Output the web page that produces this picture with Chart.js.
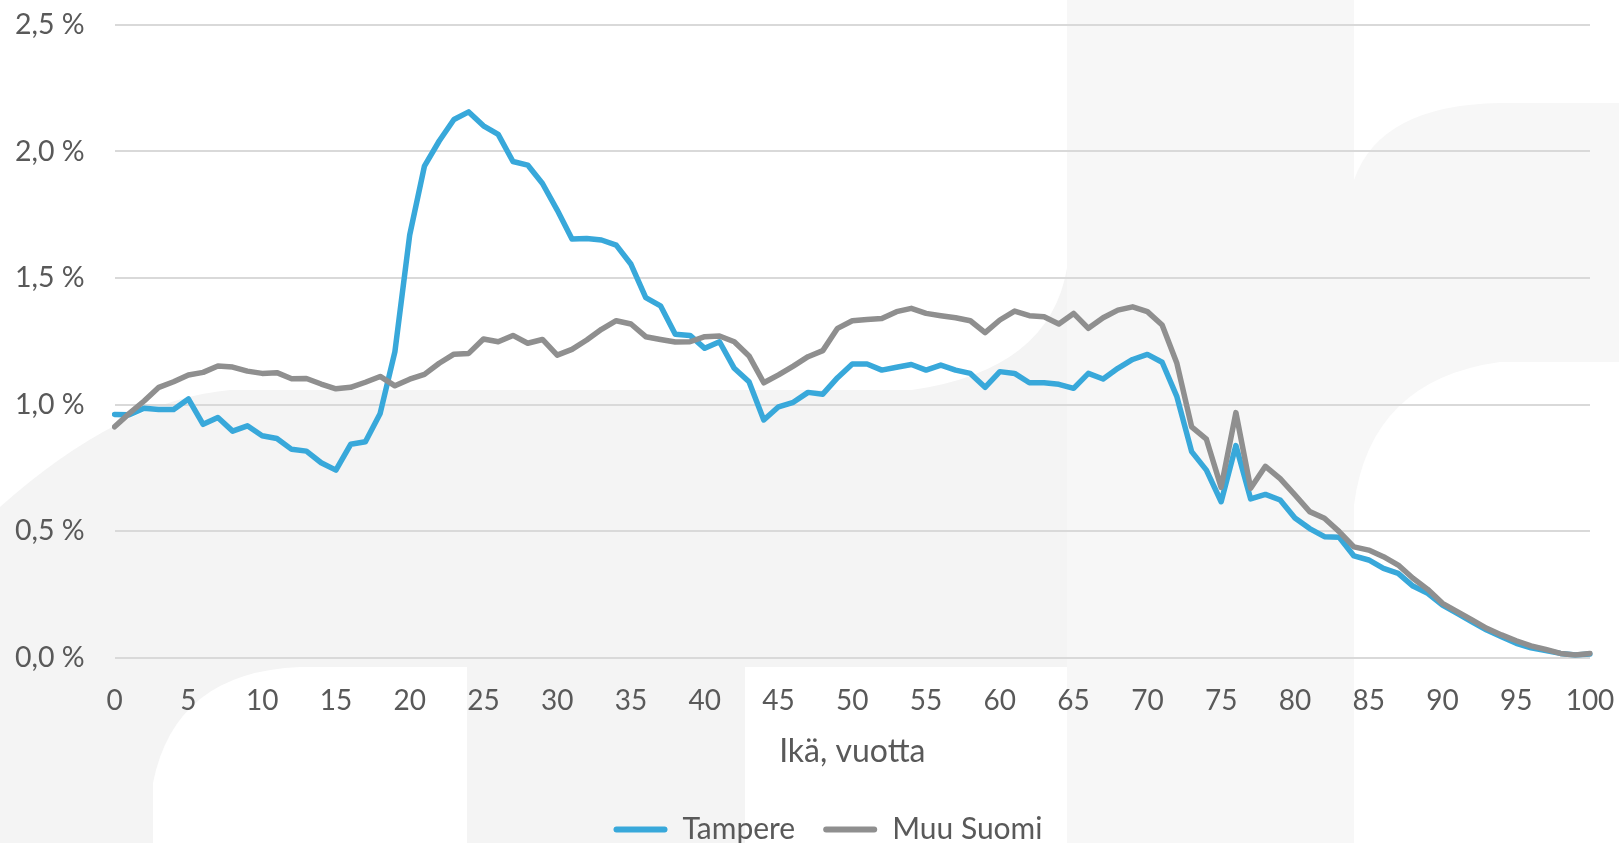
<!DOCTYPE html>
<html>
<head>
<meta charset="utf-8">
<script src="https://cdn.jsdelivr.net/npm/chart.js@4.4.0/dist/chart.umd.min.js"></script>
<style>
  html, body { margin: 0; padding: 0; background: #ffffff; }
  #wrap { width: 1619px; height: 843px; position: relative; }
</style>
</head>
<body>
<div id="wrap"><canvas id="c" width="1619" height="843"></canvas></div>
<script>
// ---- Data ----
const ages = Array.from({length: 101}, (_, i) => String(i));
const seriesNames = ['Tampere', 'Muu Suomi'];
const tampere = [
  0.961, 0.960, 0.985, 0.980, 0.980, 1.022, 0.922, 0.949, 0.895, 0.916,
  0.877, 0.866, 0.823, 0.816, 0.770, 0.741, 0.843, 0.853, 0.965, 1.209,
  1.669, 1.942, 2.041, 2.126, 2.156, 2.101, 2.067, 1.960, 1.946, 1.873,
  1.768, 1.654, 1.656, 1.650, 1.630, 1.554, 1.422, 1.390, 1.278, 1.273,
  1.222, 1.248, 1.143, 1.090, 0.939, 0.991, 1.009, 1.048, 1.041, 1.106,
  1.160, 1.160, 1.136, 1.147, 1.158, 1.136, 1.156, 1.136, 1.123, 1.068,
  1.130, 1.123, 1.086, 1.086, 1.080, 1.064, 1.123, 1.101, 1.143, 1.178,
  1.198, 1.167, 1.031, 0.814, 0.741, 0.616, 0.838, 0.627, 0.645, 0.623,
  0.552, 0.510, 0.478, 0.476, 0.402, 0.386, 0.353, 0.333, 0.283, 0.254,
  0.208, 0.175, 0.142, 0.109, 0.083, 0.057, 0.039, 0.028, 0.017, 0.011,
  0.015
];
const muuSuomi = [
  0.912, 0.965, 1.014, 1.068, 1.090, 1.117, 1.127, 1.152, 1.148, 1.132,
  1.123, 1.126, 1.102, 1.103, 1.081, 1.062, 1.068, 1.088, 1.111, 1.074,
  1.100, 1.119, 1.163, 1.199, 1.202, 1.259, 1.248, 1.273, 1.242, 1.257,
  1.195, 1.218, 1.255, 1.297, 1.331, 1.318, 1.268, 1.257, 1.247, 1.248,
  1.268, 1.271, 1.248, 1.192, 1.086, 1.117, 1.152, 1.189, 1.213, 1.301,
  1.331, 1.336, 1.340, 1.367, 1.380, 1.360, 1.351, 1.343, 1.331, 1.284,
  1.334, 1.369, 1.351, 1.347, 1.318, 1.360, 1.301, 1.343, 1.373, 1.386,
  1.367, 1.314, 1.163, 0.912, 0.863, 0.673, 0.968, 0.669, 0.756, 0.707,
  0.643, 0.577, 0.551, 0.498, 0.438, 0.425, 0.399, 0.366, 0.314, 0.270,
  0.215, 0.182, 0.149, 0.116, 0.090, 0.067, 0.047, 0.033, 0.017, 0.011,
  0.017
];
const yTickValues = [0, 0.5, 1.0, 1.5, 2.0, 2.5];
const yTickLabels = ['0,0 %', '0,5 %', '1,0 %', '1,5 %', '2,0 %', '2,5 %'];
const xTickStep = 5;
const xAxisTitle = 'Ikä, vuotta';

// ---- Style ----
const FONT = 'Lato, Carlito, "Open Sans", sans-serif';
const TEXT = '#595959';
const BLUE = '#38A8DA';
const GREY = '#8F8F8F';
const LEGEND_CENTER_X = 828;

// decorative faint background (watermark shapes)
const bgPlugin = {
  id: 'bg',
  beforeDraw(chart) {
    const ctx = chart.ctx;
    ctx.save();
    ctx.fillStyle = '#ffffff';
    ctx.fillRect(0, 0, chart.width, chart.height);
    ctx.fillStyle = '#F4F4F4';
    ctx.beginPath();
    ctx.moveTo(0, 507);
    ctx.quadraticCurveTo(120, 400, 230, 390);
    ctx.lineTo(912, 390);
    ctx.quadraticCurveTo(1050, 370, 1067, 268);
    ctx.lineTo(1067, 843);
    ctx.lineTo(0, 843);
    ctx.closePath();
    ctx.fill();
    ctx.fillStyle = '#F7F7F7';
    ctx.fillRect(1067, 0, 287, 843);
    ctx.beginPath();
    ctx.moveTo(1354, 180);
    ctx.quadraticCurveTo(1380, 105, 1500, 103);
    ctx.lineTo(1619, 103);
    ctx.lineTo(1619, 362);
    ctx.lineTo(1500, 362);
    ctx.quadraticCurveTo(1370, 380, 1354, 505);
    ctx.closePath();
    ctx.fill();
    ctx.fillStyle = '#ffffff';
    ctx.beginPath();
    ctx.moveTo(153, 843);
    ctx.lineTo(153, 783);
    ctx.quadraticCurveTo(175, 672, 300, 667);
    ctx.lineTo(467, 667);
    ctx.lineTo(467, 843);
    ctx.closePath();
    ctx.fill();
    ctx.fillRect(745, 667, 1067 - 745, 843 - 667);
    ctx.restore();
  }
};

// centre the legend where the original has it
const legendShift = {
  id: 'legendShift',
  afterLayout(chart) {
    const lg = chart.legend;
    if (!lg) return;
    const dx = LEGEND_CENTER_X - (lg.left + lg.right) / 2;
    lg.left += dx;
    lg.right += dx;
    if (lg.adjustHitBoxes) lg.adjustHitBoxes();
  }
};

const ctx = document.getElementById('c').getContext('2d');
new Chart(ctx, {
  type: 'line',
  data: {
    labels: ages,
    datasets: [
      { label: seriesNames[0], data: tampere, borderColor: BLUE, backgroundColor: BLUE,
        borderWidth: 5.5, pointRadius: 0, tension: 0, order: 1,
        borderJoinStyle: 'round', borderCapStyle: 'round' },
      { label: seriesNames[1], data: muuSuomi, borderColor: GREY, backgroundColor: GREY,
        borderWidth: 5.5, pointRadius: 0, tension: 0, order: 0,
        borderJoinStyle: 'round', borderCapStyle: 'round' }
    ]
  },
  options: {
    responsive: false,
    animation: false,
    devicePixelRatio: 1,
    layout: { padding: { left: 0, right: 29, top: 24.8, bottom: -11.5 } },
    plugins: {
      tooltip: { enabled: false },
      legend: {
        position: 'bottom',
        labels: {
          color: TEXT,
          font: { family: FONT, size: 30 },
          boxWidth: 54,
          boxHeight: 6,
          padding: 28,
          useBorderRadius: true,
          borderRadius: 3,
          generateLabels(chart) {
            return chart.data.datasets.map((ds, i) => ({
              text: ds.label,
              fillStyle: ds.borderColor,
              strokeStyle: ds.borderColor,
              lineWidth: 0,
              fontColor: TEXT,
              hidden: false,
              datasetIndex: i,
              borderRadius: 3
            }));
          }
        }
      }
    },
    scales: {
      x: {
        grid: { display: false, drawTicks: false },
        border: { display: false },
        ticks: {
          autoSkip: false,
          maxRotation: 0,
          color: TEXT,
          font: { family: FONT, size: 28 },
          padding: 26.5,
          callback(value, index) { return index % xTickStep === 0 ? ages[index] : null; }
        },
        title: {
          display: true,
          text: xAxisTitle,
          color: TEXT,
          font: { family: FONT, size: 32 },
          padding: { top: 0, bottom: 15.3 }
        },
        afterFit(scale) {
          scale.height = 128.8;
          scale.paddingLeft = 0;
          scale.paddingRight = 0;
        }
      },
      y: {
        min: 0,
        max: 2.5,
        grid: { color: '#D9D9D9', lineWidth: 2, drawTicks: false },
        border: { display: false },
        afterBuildTicks(scale) { scale.ticks = yTickValues.map(v => ({ value: v })); },
        ticks: {
          color: TEXT,
          font: { family: FONT, size: 28.5 },
          padding: 30,
          callback(value) {
            const i = yTickValues.indexOf(value);
            return i >= 0 ? yTickLabels[i] : '';
          }
        },
        afterFit(scale) {
          scale.width = 114.6;
          scale.paddingTop = 0;
          scale.paddingBottom = 0;
        }
      }
    }
  },
  plugins: [bgPlugin, legendShift]
});
</script>
</body>
</html>
